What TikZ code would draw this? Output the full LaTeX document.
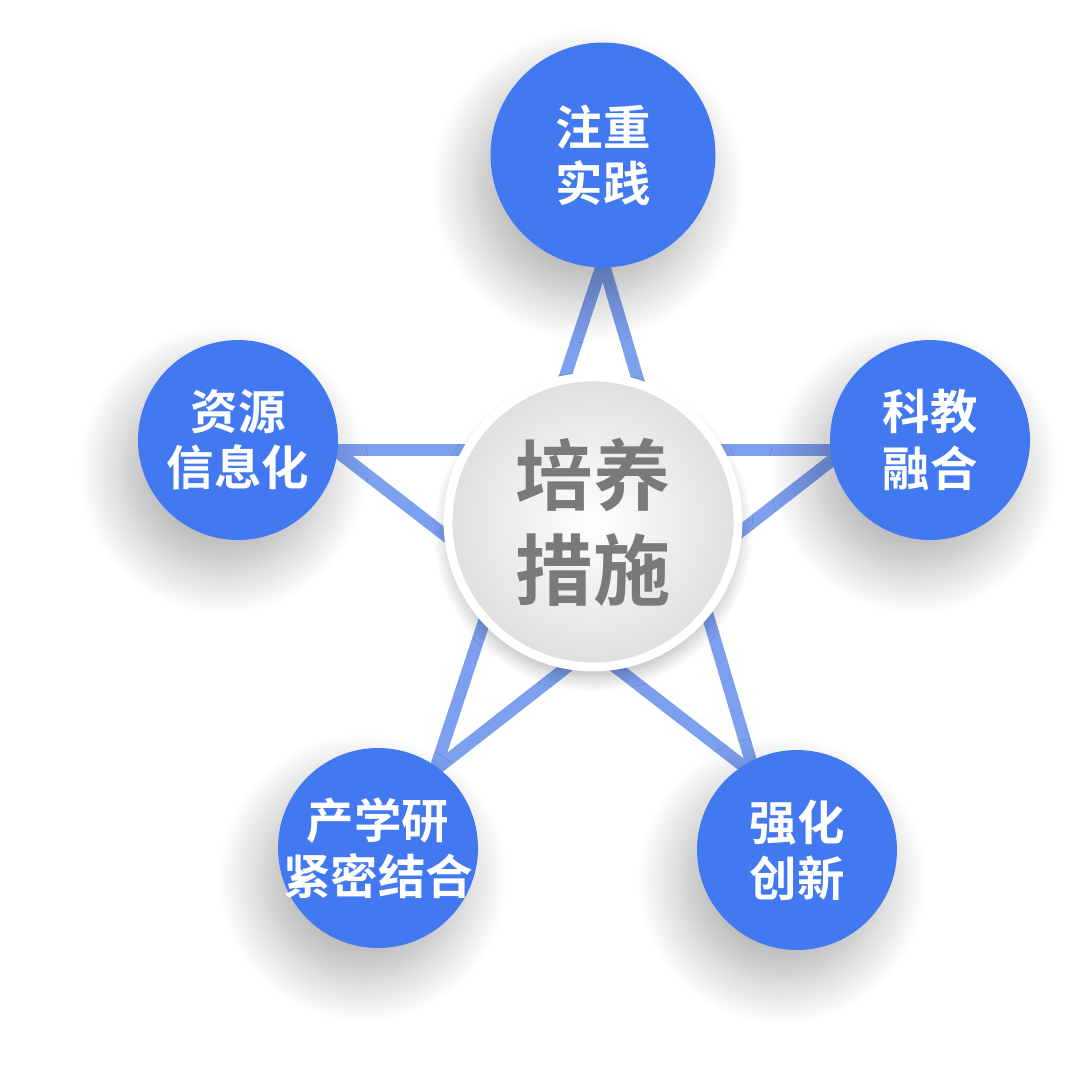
\documentclass[tikz,border=0pt]{standalone}
\usepackage{fontspec}
\newfontfamily\cjk{Noto Sans CJK SC Bold}
\usetikzlibrary{shadows.blur}
\definecolor{ballblue}{HTML}{4279F0}
\definecolor{starblue}{HTML}{7C9FEE}
\definecolor{hubgray}{HTML}{7A7A7A}

\begin{document}
\begin{tikzpicture}[
		x=0.02cm, y=-0.02cm,
		ballnode/.style={circle, fill=ballblue, text=white, minimum size=#1, inner sep=0pt,
			align=center, font=\cjk\fontsize{27}{32}\selectfont,
			blur shadow={shadow xshift=-3mm, shadow yshift=-6mm, shadow blur radius=9mm,
				shadow blur steps=25, shadow opacity=30}},
		hubnode/.style={circle, draw=white, line width=5pt, inner color=white, outer color=gray!25,
			text=hubgray, minimum size=5.8cm, inner sep=0pt, align=center,
			font=\cjk\fontsize{44}{54}\selectfont,
			blur shadow={shadow xshift=0mm, shadow yshift=-2mm, shadow blur radius=3mm,
				shadow blur steps=15, shadow opacity=30}},
		starline/.style={draw=starblue, line width=7pt},
		]
		\useasboundingbox (0,0) rectangle (1080,1090);
		%Star corners
		\coordinate (s1) at (603,262);
		\coordinate (s2) at (845,450);
		\coordinate (s3) at (755,775);
		\coordinate (s4) at (435,770);
		\coordinate (s5) at (335,450);
		
		%Lines
		\draw[starline] (s1) -- (s4);
		\draw[starline] (s1) -- (s3);
		\draw[starline] (s5) -- (s2);
		\draw[starline] (s5) -- (s3);
		\draw[starline] (s2) -- (s4);
		
		%Nodes
		\node[ballnode=4.5cm] (practice) at (603,155) {注重\\实践};
		\node[ballnode=4cm]   (science)  at (930,440) {科教\\融合};
		\node[ballnode=4cm]   (innov)    at (797,850) {强化\\创新};
		\node[ballnode=4cm]   (industry) at (378,848) {\makebox[0pt]{产学研}\\\makebox[0pt]{紧密结合}};
		\node[ballnode=4cm]   (info)     at (238,440) {资源\\信息化};
		\node[hubnode]        (hub)      at (593,522) {培养\\措施};
	\end{tikzpicture}
\end{document}
